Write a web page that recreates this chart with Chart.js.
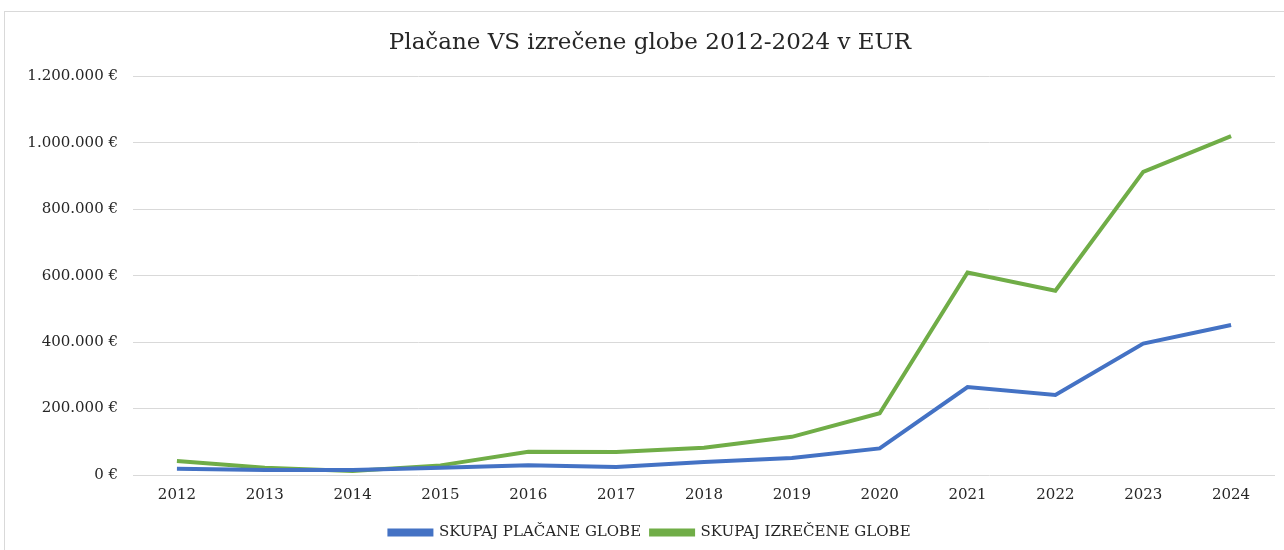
<!DOCTYPE html>
<html lang="sl">
<head>
<meta charset="UTF-8">
<title>Plačane VS izrečene globe</title>
<script src="https://cdn.jsdelivr.net/npm/chart.js"></script>
<style>
  html, body { margin: 0; padding: 0; overflow: hidden; background: #fff; }
  .frame { position: absolute; left: 4px; top: 11px; width: 1300px; height: 560px; border: 1px solid #d9d9d9; box-sizing: border-box; }
  .wrap { position: absolute; left: 0; top: 0; width: 1284px; height: 550px; }
</style>
</head>
<body>
<div class="frame"></div>
<div class="wrap"><canvas id="globeChart"></canvas></div>
<script>
// podatki odčitani z grafa
const years = ['2012', '2013', '2014', '2015', '2016', '2017', '2018', '2019', '2020', '2021', '2022', '2023', '2024'];
const placane = [19000, 15000, 15000, 22000, 29000, 24000, 39000, 51000, 80000, 265000, 241000, 396000, 452000];
const izrecene = [42000, 22000, 12000, 29000, 70000, 69000, 82000, 115000, 186000, 610000, 555000, 913000, 1021000];

const fontFamily = "'DejaVu Serif', 'Liberation Serif', serif";
const textColor = '#262626';

function eur(v) {
    return v.toString().replace(/\B(?=(\d{3})+(?!\d))/g, '.') + ' €';
}

const ctx = document.getElementById('globeChart').getContext('2d');
new Chart(ctx, {
    type: 'line',
    data: {
        labels: years,
        datasets: [
            {
                label: 'SKUPAJ PLAČANE GLOBE',
                data: placane,
                borderColor: '#4472C4',
                backgroundColor: '#4472C4',
                borderWidth: 4,
                pointRadius: 0,
                tension: 0
            },
            {
                label: 'SKUPAJ IZREČENE GLOBE',
                data: izrecene,
                borderColor: '#70AD47',
                backgroundColor: '#70AD47',
                borderWidth: 4,
                pointRadius: 0,
                tension: 0
            }
        ]
    },
    options: {
        responsive: true,
        maintainAspectRatio: false,
        animation: false,
        layout: { padding: { left: 25, right: 9, top: 0, bottom: 0 } },
        plugins: {
            title: {
                display: true,
                text: 'Plačane VS izrečene globe 2012-2024 v EUR',
                color: textColor,
                font: { family: fontFamily, size: 23, weight: 'normal' },
                padding: { top: 29, bottom: 20 }
            },
            legend: {
                position: 'bottom',
                labels: {
                    color: textColor,
                    font: { family: fontFamily, size: 15 },
                    boxWidth: 42,
                    boxHeight: 4,
                    padding: 10
                }
            },
            tooltip: { enabled: false }
        },
        scales: {
            x: {
                offset: true,
                grid: { display: false, drawTicks: false },
                border: { display: false },
                ticks: {
                    color: textColor,
                    font: { family: fontFamily, size: 15 },
                    padding: 11,
                    maxRotation: 0
                }
            },
            y: {
                min: 0,
                max: 1200000,
                afterFit: function (scale) { scale.width = 108; },
                grid: { color: '#d9d9d9', lineWidth: 1, drawTicks: false },
                border: { display: false },
                ticks: {
                    stepSize: 200000,
                    color: textColor,
                    font: { family: fontFamily, size: 15 },
                    padding: 15,
                    callback: function (v) { return eur(v); }
                }
            }
        }
    }
});
</script>
</body>
</html>
